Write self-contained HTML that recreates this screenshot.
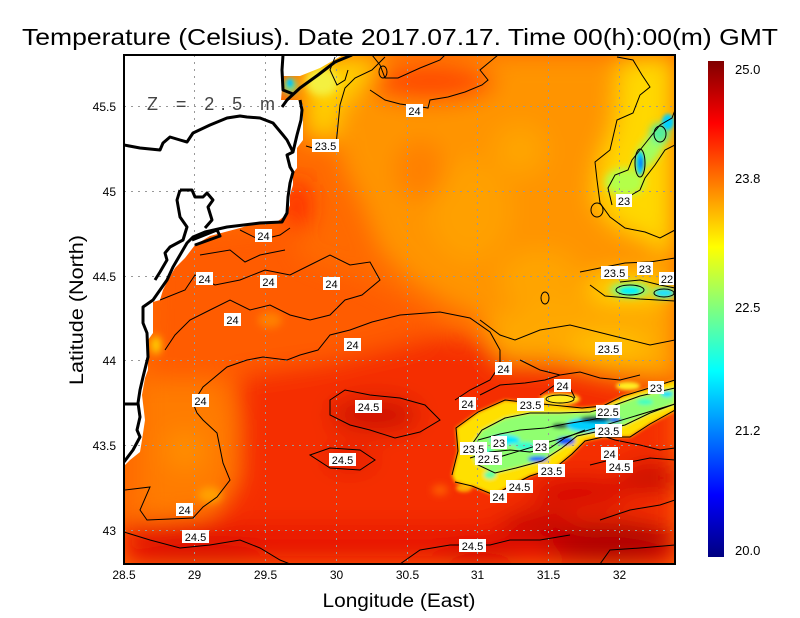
<!DOCTYPE html>
<html><head><meta charset="utf-8"><style>
html,body{margin:0;padding:0;background:#fff;}
svg{display:block;}
text{font-family:"Liberation Sans",sans-serif;}
</style></head><body>
<svg width="800" height="618" viewBox="0 0 800 618" xmlns="http://www.w3.org/2000/svg">
<defs>
<clipPath id="pc"><rect x="124" y="55" width="551" height="509"/></clipPath>
<filter id="b14" x="-20%" y="-20%" width="140%" height="140%"><feGaussianBlur stdDeviation="12"/></filter>
<filter id="b5" x="-20%" y="-20%" width="140%" height="140%"><feGaussianBlur stdDeviation="4"/></filter>
<filter id="b2" x="-20%" y="-20%" width="140%" height="140%"><feGaussianBlur stdDeviation="1.8"/></filter>
<linearGradient id="jet" x1="0" y1="0" x2="0" y2="1">
<stop offset="0" stop-color="#800000"/><stop offset="0.125" stop-color="#ff0000"/>
<stop offset="0.375" stop-color="#ffff00"/><stop offset="0.625" stop-color="#00ffff"/>
<stop offset="0.875" stop-color="#0000ff"/><stop offset="1" stop-color="#000080"/>
</linearGradient>
</defs>

<text x="22" y="45" font-size="23" textLength="756" lengthAdjust="spacingAndGlyphs">Temperature (Celsius). Date 2017.07.17. Time 00(h):00(m) GMT</text>

<g clip-path="url(#pc)">
<rect x="124" y="55" width="551" height="509" fill="#ff6a00"/>
<g filter="url(#b14)">
<polygon points="330,55 675,55 675,340 620,345 560,335 500,325 450,305 410,280 380,250 360,200 340,160" fill="#ff9400"/>
<ellipse cx="470" cy="210" rx="40" ry="50" fill="#ffa000"/>
<ellipse cx="540" cy="280" rx="40" ry="30" fill="#ffa400"/>
<ellipse cx="420" cy="170" rx="25" ry="30" fill="#ff8000"/>
<ellipse cx="520" cy="150" rx="25" ry="25" fill="#ffa400"/>
<ellipse cx="430" cy="82" rx="65" ry="20" fill="#ff4a00"/>
<polygon points="155,240 290,225 300,260 360,280 400,300 440,320 420,360 300,370 220,380 150,380" fill="#ff5c00"/>
<ellipse cx="297" cy="205" rx="12" ry="25" fill="#ff2000"/>
<polygon points="140,380 215,380 235,420 232,480 215,510 140,520" fill="#ff7c00"/>
<ellipse cx="185" cy="450" rx="20" ry="20" fill="#ff8e00"/>
<polygon points="240,375 330,362 440,335 520,348 600,352 675,380 675,564 124,564 124,525 210,520 240,480 240,420" fill="#f52e00"/>
<rect x="124" y="525" width="551" height="39" fill="#e81400"/>
<ellipse cx="375" cy="415" rx="45" ry="16" fill="#cc0800"/>
<ellipse cx="350" cy="460" rx="25" ry="8" fill="#d80a00"/>
<ellipse cx="610" cy="542" rx="65" ry="22" fill="#b00000"/>
<ellipse cx="540" cy="525" rx="40" ry="15" fill="#c80000"/>
<ellipse cx="650" cy="478" rx="30" ry="15" fill="#c80000"/>
<ellipse cx="480" cy="555" rx="40" ry="10" fill="#d00000"/>
<ellipse cx="200" cy="552" rx="60" ry="12" fill="#d80800"/>
<ellipse cx="580" cy="492" rx="50" ry="15" fill="#d40000"/>
<polygon points="480,320 560,300 675,300 675,380 620,375 560,362 500,360" fill="#ffa800"/>
<ellipse cx="630" cy="288" rx="45" ry="12" fill="#ffe000"/>
<ellipse cx="610" cy="345" rx="40" ry="10" fill="#ffc800"/>
<polygon points="620,60 675,55 675,260 650,240 615,225 595,200 600,160 615,125" fill="#ffd800"/>
<polygon points="303,58 370,55 380,70 360,90 340,105 335,140 305,140" fill="#ffd000"/>
</g>
<g filter="url(#b5)">
<ellipse cx="322" cy="82" rx="16" ry="14" fill="#f4f040"/>
<ellipse cx="290" cy="86" rx="7" ry="8" fill="#70e890"/>
<ellipse cx="625" cy="182" rx="20" ry="14" fill="#b4ff4a"/>
<ellipse cx="650" cy="150" rx="10" ry="22" fill="#a0ff60" transform="rotate(35 650 150)"/>
<ellipse cx="660" cy="133" rx="10" ry="10" fill="#50f0a0"/>
<ellipse cx="630" cy="290" rx="20" ry="7" fill="#70ff90"/>
<ellipse cx="664" cy="293" rx="12" ry="5" fill="#60ffa0"/>
<ellipse cx="156" cy="345" rx="5" ry="9" fill="#ffd800"/>
<ellipse cx="210" cy="495" rx="12" ry="8" fill="#ffa000"/>
<ellipse cx="270" cy="320" rx="12" ry="8" fill="#ff8000"/>
<ellipse cx="440" cy="490" rx="8" ry="5" fill="#ff6000"/>
</g>
<g filter="url(#b2)">
<ellipse cx="290" cy="83" rx="3" ry="4" fill="#00c0ff"/>
<ellipse cx="640" cy="163" rx="4" ry="12" fill="#00c8ff"/>
<ellipse cx="641" cy="163" rx="1.5" ry="6" fill="#0040ff"/>
<ellipse cx="668" cy="122" rx="6" ry="8" fill="#00d0ff"/>
<ellipse cx="630" cy="291" rx="10" ry="3.5" fill="#00f0ff"/>
<ellipse cx="664" cy="293" rx="9" ry="3.5" fill="#20e0ff"/>
<polygon points="452,475 458,451 456,428 478,412 505,400 542,404 582,408 603,406 623,396 643,390 677,380 677,410 650,424 630,437 603,437 585,441 572,454 555,468 530,476 510,486 494,495 472,486 455,482" fill="#ffe000"/>
<ellipse cx="560" cy="399" rx="20" ry="6" fill="#ffee20"/>
<ellipse cx="628" cy="386" rx="12" ry="4" fill="#ffee20"/>
<polygon points="470,447 482,430 505,418 530,413 560,413 590,412 615,405 640,396 675,388 675,404 650,413 625,425 600,431 577,436 562,448 542,461 516,468 495,473 476,464" fill="#90ff70"/>
<ellipse cx="505" cy="440" rx="15" ry="5" fill="#00e8ff"/>
<ellipse cx="485" cy="452" rx="8" ry="4" fill="#40ffc0"/>
<ellipse cx="525" cy="446" rx="10" ry="4" fill="#30ffd0"/>
<ellipse cx="538" cy="459" rx="10" ry="3" fill="#0060ff"/>
<ellipse cx="588" cy="425" rx="22" ry="7" fill="#00d0ff"/>
<ellipse cx="566" cy="441" rx="9" ry="4" fill="#0050ff"/>
<ellipse cx="560" cy="426" rx="8" ry="2.5" fill="#000040"/>
<ellipse cx="596" cy="419" rx="16" ry="3" fill="#000050"/>
<ellipse cx="615" cy="420" rx="6" ry="2.5" fill="#0030ff"/>
<ellipse cx="667" cy="394" rx="6" ry="3" fill="#00e0ff"/>
<ellipse cx="645" cy="402" rx="8" ry="3" fill="#40ffc0"/>
<ellipse cx="490" cy="475" rx="6" ry="4" fill="#60ffa0"/>
<ellipse cx="464" cy="488" rx="8" ry="4" fill="#ffb000"/>
</g>

<polygon points="124,55 343,55 320,68 300,76 283,76 281,100 298,100 303,105 303,140 297,148 297,168 293,173 293,185 290,195 290,205 286,215 278,221 260,222 240,228 210,236 195,245 185,258 175,268 168,280 163,290 160,300 153,302 153,333 148,340 148,370 145,378 142,395 145,420 142,440 140,452 135,456 130,460 124,466" fill="#fff"/>

<g stroke="#999" stroke-width="1" stroke-dasharray="2 5" fill="none">
<line x1="194.5" y1="55" x2="194.5" y2="564"/><line x1="265.5" y1="55" x2="265.5" y2="564"/>
<line x1="336.5" y1="55" x2="336.5" y2="564"/><line x1="407.5" y1="55" x2="407.5" y2="564"/>
<line x1="477.5" y1="55" x2="477.5" y2="564"/><line x1="548.5" y1="55" x2="548.5" y2="564"/>
<line x1="619.5" y1="55" x2="619.5" y2="564"/>
<line x1="124" y1="106.5" x2="675" y2="106.5"/><line x1="124" y1="191.5" x2="675" y2="191.5"/>
<line x1="124" y1="276.5" x2="675" y2="276.5"/><line x1="124" y1="360.5" x2="675" y2="360.5"/>
<line x1="124" y1="445.5" x2="675" y2="445.5"/><line x1="124" y1="530.5" x2="675" y2="530.5"/>
</g>

<g stroke="#000" stroke-width="1" fill="none">
<path d="M370,90 L385,100 L400,104 L415,106 L428,108 L430,100 L448,97 L465,92 L482,85 L488,80 L480,70 L492,60 L498,55"/>
<path d="M372,55 L380,65 L385,78 L398,78 L420,68 L440,60 L445,55"/>
<path d="M385,57 L372,70 L355,78 L345,88 L340,105 L338,125 L336,145 L320,150 L306,146"/>
<path d="M335,57 L330,70 L337,85 L345,80 L348,70"/>
<path d="M617,57 L633,60 L642,75 L650,87 L640,95 L633,113 L617,120 L610,150 L595,162 L597,180 L600,203 L610,217 L625,228 L645,232 L660,238 L675,230"/>
<path d="M612,205 L608,188 L615,175 L628,170 L632,160 L640,150 L648,140 L660,125 L672,118 L675,110"/>
<path d="M628,197 L640,190 L645,178 L655,165 L665,150 L675,145"/>
<ellipse cx="640" cy="163" rx="5" ry="14"/><ellipse cx="660" cy="134" rx="6" ry="8"/>
<path d="M580,272 L600,268 L625,263 L650,262 L675,258"/>
<path d="M590,285 L605,296 L640,299 L675,301"/>
<path d="M620,282 L640,280 L660,285 L675,288"/>
<ellipse cx="630" cy="290" rx="14" ry="5"/><ellipse cx="664" cy="293" rx="10" ry="4"/>
<path d="M125,490 L150,487 L140,510 L147,520 L193,518 L203,507 L217,497 L230,480 L223,463 L217,433 L203,420 L197,413 L193,403 L203,387 L227,367 L247,360 L263,357 L287,360 L300,355 L318,350 L330,335 L350,330 L372,322 L400,315 L440,312 L470,318 L490,332 L500,350 L500,365 L490,380 L470,390 L455,400"/>
<path d="M160,300 L185,290 L195,275 L215,285 L240,280 L265,270 L290,275 L310,265 L330,255 L350,265 L370,262 L380,280 L362,295 L345,300 L330,315 L310,320 L290,315 L270,305 L250,310 L230,300 L210,310 L190,320 L175,335 L165,350"/>
<path d="M240,230 L260,240 L280,235 L290,228"/>
<path d="M200,255 L230,250 L245,262 L260,255 L285,250"/>
<path d="M330,400 L345,390 L370,395 L400,398 L425,405 L440,420 L420,432 L395,438 L370,430 L350,425 L330,415 Z"/>
<path d="M310,455 L330,448 L360,450 L375,460 L360,470 L330,468 Z"/>
<path d="M124,532 L150,540 L180,548 L210,545 L240,540 L260,548 L280,560 L290,564"/>
<path d="M400,564 L420,550 L450,545 L490,545 L510,540 L540,540 L570,535"/>
<path d="M600,520 L630,510 L660,505 L675,500"/>
<path d="M600,564 L610,550 L640,548 L675,545"/>
<path d="M480,320 L500,335 L515,340 L540,330 L570,325 L590,330 L610,335 L630,340 L650,345 L675,340"/>
<path d="M520,360 L540,370 L560,375 L580,372 L600,378 L620,380 L640,375"/>
<path d="M452,475 L458,451 L456,428 L478,412 L505,400 L542,404 L582,408 L603,406 L623,396 L643,390 L675,380"/>
<path d="M675,410 L650,424 L630,437 L603,437 L585,441 L572,454 L555,468 L530,476 L510,486 L494,495 L472,486 L455,482"/>
<path d="M470,447 L482,430 L505,418 L530,413 L560,413 L590,412 L615,405 L640,396 L675,388"/>
<path d="M675,404 L650,413 L625,425 L600,431 L577,436 L562,448 L542,461 L516,468 L495,473 L476,464 Z"/>
<path d="M470,458 L490,452 L510,450 L530,452 L550,448 L565,438 L585,430"/>
<path d="M478,440 L500,434 L520,430 L545,428 L565,424 L590,420 L610,416"/>
<path d="M600,435 L615,440 L640,445 L660,450 L675,448"/>
<path d="M590,465 L610,460 L630,462 L650,458 L675,460"/>
<path d="M540,395 L555,385 L570,388 L575,398"/>
<path d="M480,395 L500,385 L525,383 L545,380 L560,375"/>
<ellipse cx="560" cy="399" rx="14" ry="4"/>
<ellipse cx="383" cy="72" rx="4" ry="6"/>
<ellipse cx="597" cy="210" rx="6" ry="7"/>
<ellipse cx="545" cy="298" rx="4" ry="6"/>
</g>

<g stroke="#000" stroke-width="3" fill="none" stroke-linejoin="round">
<path d="M352,55 L335,62 L318,75 L300,88 L287,100 L282,107"/>
<path d="M283,55 L282,70 L283,90 L293,94"/>
<path d="M300,100 L302,110 L301,120 L297,135 L293,152 L287,155 L290,167 L293,172 L290,183 L288,197 L287,213 L282,222 L260,223 L227,227 L205,232 L193,237 L187,243 L180,255 L173,267 L167,280 L160,290 L153,300 L143,307 L143,323 L147,333 L148,357 L143,377 L140,390 L138,403 L140,417 L137,430 L140,437 L133,450 L124,462"/>
<path d="M124,404 L138,404"/>
<path d="M124,145 L140,148 L160,150 L163,143 L170,137 L180,140 L187,142 L193,133 L210,125 L227,118 L240,116 L247,117 L260,118 L273,123 L283,135 L287,140 L293,152"/>
<path d="M180,190 L192,190 L195,197 L203,197 L207,193 L213,200 L208,207 L212,220 L205,228"/>
<path d="M180,190 L177,200 L180,217 L187,227 L183,240 L170,247 L165,253 L167,260 L160,272 L155,280"/>
<path d="M192,240 L217,230 L220,236 L195,245"/>
</g>

<g font-size="11" text-anchor="middle">
<g fill="#fff">
<rect x="406" y="104" width="17" height="13"/><rect x="312" y="139" width="27" height="13"/>
<rect x="255" y="229" width="17" height="13"/><rect x="196" y="272" width="17" height="13"/>
<rect x="260" y="275" width="17" height="13"/><rect x="323" y="277" width="17" height="13"/>
<rect x="224" y="313" width="17" height="13"/><rect x="344" y="338" width="17" height="13"/>
<rect x="192" y="394" width="17" height="13"/><rect x="355" y="400" width="27" height="13"/>
<rect x="329" y="453" width="27" height="13"/><rect x="176" y="503" width="17" height="13"/>
<rect x="182" y="530" width="27" height="13"/><rect x="459" y="539" width="27" height="13"/>
<rect x="616" y="194" width="16" height="13"/><rect x="601" y="266" width="27" height="13"/>
<rect x="637" y="262" width="16" height="13"/><rect x="659" y="272" width="16" height="13"/>
<rect x="595" y="342" width="27" height="13"/><rect x="495" y="362" width="17" height="13"/>
<rect x="554" y="379" width="17" height="13"/><rect x="459" y="397" width="17" height="13"/>
<rect x="517" y="398" width="27" height="13"/><rect x="648" y="381" width="16" height="13"/>
<rect x="596" y="405" width="24" height="13"/><rect x="595" y="424" width="27" height="13"/>
<rect x="460" y="442" width="27" height="13"/><rect x="491" y="436" width="16" height="13"/>
<rect x="533" y="440" width="16" height="13"/><rect x="475" y="452" width="27" height="13"/>
<rect x="601" y="447" width="17" height="13"/><rect x="606" y="460" width="27" height="13"/>
<rect x="538" y="464" width="27" height="13"/><rect x="506" y="480" width="27" height="13"/>
<rect x="490" y="490" width="17" height="13"/>
</g>
<text x="414.5" y="115">24</text><text x="325.5" y="150">23.5</text>
<text x="263.5" y="240">24</text><text x="204.5" y="283">24</text>
<text x="268.5" y="286">24</text><text x="331.5" y="288">24</text>
<text x="232.5" y="324">24</text><text x="352.5" y="349">24</text>
<text x="200.5" y="405">24</text><text x="368.5" y="411">24.5</text>
<text x="342.5" y="464">24.5</text><text x="184.5" y="514">24</text>
<text x="195.5" y="541">24.5</text><text x="472.5" y="550">24.5</text>
<text x="624" y="205">23</text><text x="614.5" y="277">23.5</text>
<text x="645" y="273">23</text><text x="667" y="283">22</text>
<text x="608.5" y="353">23.5</text><text x="503.5" y="373">24</text>
<text x="562.5" y="390">24</text><text x="467.5" y="408">24</text>
<text x="530.5" y="409">23.5</text><text x="656" y="392">23</text>
<text x="608" y="416">22.5</text><text x="608.5" y="435">23.5</text>
<text x="473.5" y="453">23.5</text><text x="499" y="447">23</text>
<text x="541" y="451">23</text><text x="488.5" y="463">22.5</text>
<text x="609.5" y="458">24</text><text x="619.5" y="471">24.5</text>
<text x="551.5" y="475">23.5</text><text x="519.5" y="491">24.5</text>
<text x="498.5" y="501">24</text>
</g>
</g>

<text x="147" y="110" font-size="18" fill="#444" textLength="128" lengthAdjust="spacing">Z = 2.5 m</text>

<rect x="124" y="55" width="551" height="509" fill="none" stroke="#000" stroke-width="2"/>

<g font-size="12" text-anchor="end">
<text x="116" y="111">45.5</text><text x="116" y="196">45</text>
<text x="116" y="281">44.5</text><text x="116" y="365">44</text>
<text x="116" y="450">43.5</text><text x="116" y="535">43</text>
</g>
<g font-size="12" text-anchor="middle">
<text x="124" y="579">28.5</text><text x="194.5" y="579">29</text>
<text x="265.5" y="579">29.5</text><text x="336.5" y="579">30</text>
<text x="407.5" y="579">30.5</text><text x="477.5" y="579">31</text>
<text x="548.5" y="579">31.5</text><text x="619.5" y="579">32</text>
</g>
<text x="399" y="607" font-size="19" text-anchor="middle" textLength="153" lengthAdjust="spacingAndGlyphs">Longitude (East)</text>
<text transform="translate(83,310) rotate(-90)" font-size="19" text-anchor="middle" textLength="150" lengthAdjust="spacingAndGlyphs">Latitude (North)</text>

<rect x="708" y="61" width="16" height="496" fill="url(#jet)"/>
<g font-size="13">
<text x="735" y="74">25.0</text><text x="735" y="183">23.8</text>
<text x="735" y="312">22.5</text><text x="735" y="435">21.2</text>
<text x="735" y="555">20.0</text>
</g>
</svg>
</body></html>
